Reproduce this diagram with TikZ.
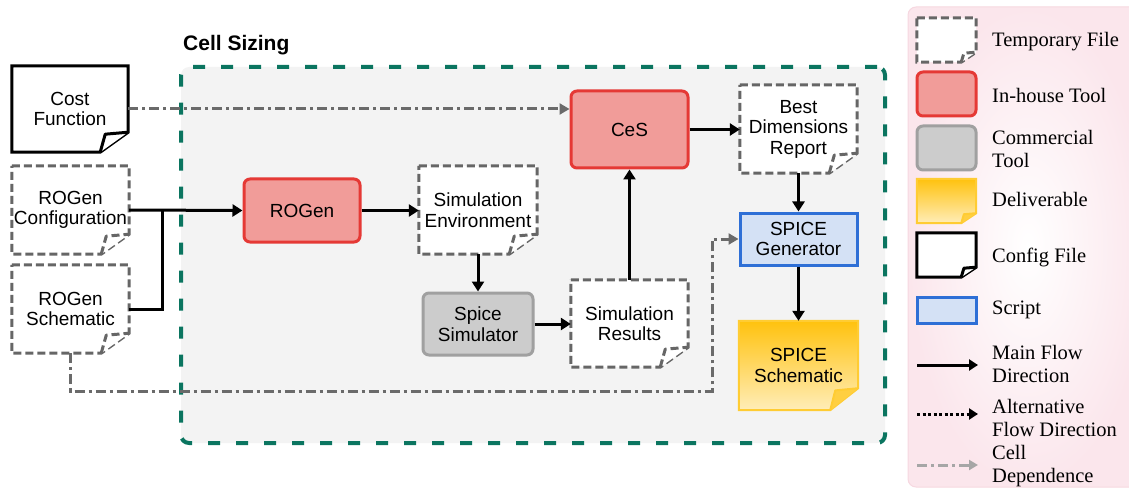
\documentclass[tikz,border=0pt]{standalone}
\usepackage{fontspec}
\setmainfont{Liberation Serif}
\setsansfont{Liberation Sans}
\usetikzlibrary{arrows.meta}
\definecolor{redfill}{HTML}{F19C99}
\definecolor{redline}{HTML}{E53935}
\definecolor{grayfill}{HTML}{CCCCCC}
\definecolor{grayline}{HTML}{A0A0A0}
\definecolor{bluefill}{HTML}{D4E1F5}
\definecolor{blueline}{HTML}{2E6FD6}
\definecolor{yeltop}{HTML}{FFC20E}
\definecolor{yelbot}{HTML}{FFEDB8}
\definecolor{yelline}{HTML}{FFCC33}
\definecolor{tempgray}{HTML}{666666}
\definecolor{depgray}{HTML}{6A6A6A}
\definecolor{deplight}{HTML}{A6A6A6}
\definecolor{teal}{HTML}{0B7560}
\definecolor{cellbg}{HTML}{F3F3F3}
\definecolor{legpink}{HTML}{FBE6EC}
\definecolor{legline}{HTML}{F6D8E0}
\pgfdeclarelayer{bg}
\pgfdeclarelayer{mid}
\pgfsetlayers{bg,mid,main}
\newcommand\docout[5]{%
  \draw[#2] (#1.north west) -- (#1.north east) -- ([yshift=#5]#1.south east) -- ([xshift=-#4]#1.south east) -- (#1.south west) -- cycle;
  \draw[#3] ([xshift=-#4]#1.south east) -- ([xshift={-0.82*#4},yshift={0.9*#5}]#1.south east) -- ([yshift=#5]#1.south east);
}
\begin{document}
\begin{tikzpicture}[x=1pt,y=-1pt,
  sans/.style={font=\sffamily\fontsize{19}{20.5}\selectfont},
  legtext/.style={font=\rmfamily\fontsize{20.5}{23}\selectfont, anchor=west, align=left, inner sep=0pt},
  box/.style={sans, align=center, inner sep=0pt},
  tool/.style={box, rounded corners=6pt, line width=3pt},
  inhouse/.style={tool, fill=redfill, draw=redline},
  comm/.style={tool, fill=grayfill, draw=grayline},
  scriptbox/.style={box, fill=bluefill, draw=blueline, line width=3pt},
  templine/.style={draw=tempgray, dash pattern=on 8pt off 4pt, line width=3pt, fill=white},
  tempflap/.style={draw=tempgray, dash pattern=on 8pt off 4pt, line width=3pt, fill=white, line join=round},
  cfgline/.style={draw=black, line width=3pt, fill=white},
  cfgflap/.style={draw=black, line width=3pt, fill=white, line join=round},
  delline/.style={draw=yelline, line width=2pt, top color=yeltop, bottom color=yelbot},
  delflap/.style={draw=yelline, line width=2pt, fill=yeltop!70!yelbot, line join=round},
  flow/.style={draw=black, line width=3pt, -{Triangle[length=10pt,width=12pt]}},
  dep/.style={draw=depgray, line width=3pt, dash pattern=on 10pt off 4pt on 3pt off 4pt, -{Triangle[length=10pt,width=11pt]}},
]
\useasboundingbox (0,0) rectangle (1129,497);

% containers
\begin{pgfonlayer}{bg}
\node[draw=teal, fill=cellbg, line width=4pt, dash pattern=on 12pt off 16pt, rounded corners=8pt,
      minimum width=704pt, minimum height=376pt, inner sep=0pt] (cell) at (533,255) {};
\node[draw=legline, line width=1pt, rounded corners=8pt, inner color=white, outer color=legpink,
      minimum width=240pt, minimum height=480pt, inner sep=0pt] (legend) at (1028,247) {};
\end{pgfonlayer}
\node[font=\sffamily\bfseries\fontsize{21}{24}\selectfont, anchor=west, inner sep=0pt] (title) at (183,45) {Cell Sizing};

% files
\node[box, minimum width=116pt, minimum height=86pt] (cost) at (70,109) {Cost\\Function};
\node[box, minimum width=117pt, minimum height=88pt] (rconf) at (70.5,210) {ROGen\\Configuration};
\node[box, minimum width=117pt, minimum height=88pt] (rsch) at (70.5,309) {ROGen\\Schematic};
\node[box, minimum width=118pt, minimum height=88pt] (simenv) at (478,210) {Simulation\\Environment};
\node[box, minimum width=117pt, minimum height=87pt] (simres) at (629.5,323.5) {Simulation\\Results};
\node[box, minimum width=117pt, minimum height=88pt] (bdr) at (798.5,129) {Best\\Dimensions\\Report};
\node[box, minimum width=119pt, minimum height=89pt] (spsch) at (798.5,365.5) {SPICE\\Schematic};

% tools
\node[inhouse, minimum width=116pt, minimum height=63pt] (rogen) at (302,210.5) {ROGen};
\node[inhouse, minimum width=117pt, minimum height=77pt] (ces) at (629.5,129.5) {CeS};
\node[comm, minimum width=110pt, minimum height=62pt] (spsim) at (478,324) {Spice\\Simulator};
\node[scriptbox, minimum width=117pt, minimum height=52pt] (spgen) at (798.5,239) {SPICE\\Generator};

\begin{pgfonlayer}{mid}
\docout{cost}{cfgline}{cfgflap}{28pt}{20pt}
\docout{rconf}{templine}{tempflap}{28pt}{20pt}
\docout{rsch}{templine}{tempflap}{28pt}{20pt}
\docout{simenv}{templine}{tempflap}{28pt}{20pt}
\docout{simres}{templine}{tempflap}{28pt}{20pt}
\docout{bdr}{templine}{tempflap}{28pt}{20pt}
\docout{spsch}{delline}{delflap}{28pt}{22pt}
\end{pgfonlayer}

% connectors
\coordinate (j) at (162,210);
\coordinate (b) at (712,391);
\draw[flow] (rconf.east) -- (rogen.west);
\draw[line width=3pt] (rsch.east) -| (j);
\draw[flow] (rogen.east) -- (rogen.east -| simenv.west);
\draw[flow] (simenv.south) -- (spsim.north);
\draw[flow] (spsim.east) -- (spsim.east -| simres.west);
\draw[flow] (simres.north) -- (ces.south);
\draw[flow] (ces.east) -- (ces.east -| bdr.west);
\draw[flow] (bdr.south) -- (spgen.north);
\draw[flow] (spgen.south) -- (spsch.north);
\draw[dep] (cost.east) -- (cost.east -| ces.west);
\draw[dep] (rsch.south) |- (b) |- (spgen.west);

% legend
\node[minimum width=59pt, minimum height=44pt, inner sep=0pt] (ltemp) at (946.5,40) {};
\node[inhouse, minimum width=59pt, minimum height=44pt] (lin) at (946.5,94) {};
\node[comm, minimum width=59pt, minimum height=44pt] (lcom) at (946.5,148) {};
\node[minimum width=59pt, minimum height=44pt, inner sep=0pt] (ldel) at (946.5,201) {};
\node[minimum width=59pt, minimum height=44pt, inner sep=0pt] (lcfg) at (946.5,255) {};
\node[scriptbox, minimum width=59pt, minimum height=26pt] (lscr) at (946.5,310) {};
\begin{pgfonlayer}{mid}
\docout{ltemp}{templine}{tempflap}{15pt}{10pt}
\docout{ldel}{delline}{delflap}{15pt}{10pt}
\docout{lcfg}{cfgline}{cfgflap}{15pt}{10pt}
\end{pgfonlayer}
\coordinate (m1) at (917,365); \coordinate (m2) at (978,365);
\coordinate (a1) at (917,414); \coordinate (a2) at (978,414);
\coordinate (c1) at (917,465); \coordinate (c2) at (978,465);
\draw[flow, -{Triangle[length=9pt,width=11pt]}] (m1) -- (m2);
\draw[line width=3pt, dash pattern=on 3pt off 2.5pt, -{Triangle[length=9pt,width=11pt]}] (a1) -- (a2);
\draw[dep, draw=deplight, -{Triangle[length=9pt,width=10pt]}] (c1) -- (c2);

\node[legtext] (t1) at (992,42) {Temporary File};
\node[legtext] (t2) at (992,95) {In-house Tool};
\node[legtext] (t3) at (992,149) {Commercial\\Tool};
\node[legtext] (t4) at (992,199) {Deliverable};
\node[legtext] (t5) at (992,257) {Config File};
\node[legtext] (t6) at (992,310) {Script};
\node[legtext] (t7) at (992,364) {Main Flow\\Direction};
\node[legtext] (t8) at (992,418) {Alternative\\Flow Direction};
\node[legtext] (t9) at (992,466) {Cell\\Dependence};
\end{tikzpicture}
\end{document}
